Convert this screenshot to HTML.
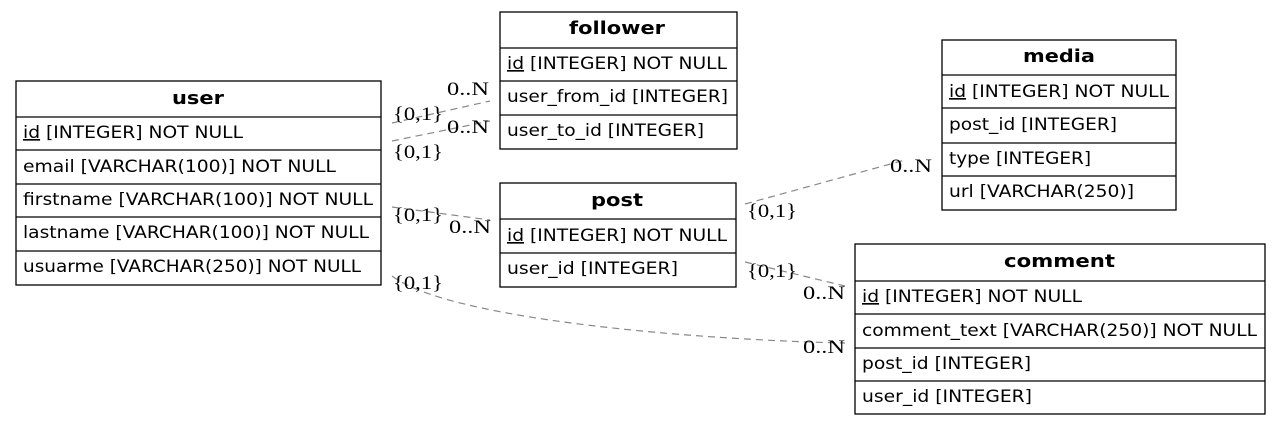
<!DOCTYPE html>
<html><head><meta charset="utf-8"><style>
body{margin:0;background:#fff}
svg{display:block}
.t{font-family:"DejaVu Sans","Liberation Sans",sans-serif;font-size:16.5px;fill:#000}
.h{font-family:"DejaVu Sans","Liberation Sans",sans-serif;font-size:18px;font-weight:bold;fill:#000}
.l{font-family:"Liberation Serif","DejaVu Serif",serif;font-size:19px;fill:#000}
.e{stroke:#888;stroke-dasharray:7,5;fill:none;stroke-width:1.2}
rect,line.b{stroke:#000;stroke-width:1.3;fill:none}
</style></head><body>
<svg width="1280" height="426" viewBox="0 0 1280 426">
<line class="e" x1="392" y1="123" x2="490" y2="101"/>
<line class="e" x1="392" y1="141" x2="490" y2="121"/>
<line class="e" x1="392" y1="207" x2="490" y2="220"/>
<path class="e" d="M392,276 C450,320 700,340 845,343"/>
<line class="e" x1="745" y1="204" x2="905" y2="160"/>
<line class="e" x1="745" y1="262" x2="845" y2="286"/>
<g class="l">
<text x="393" y="120" textLength="50" lengthAdjust="spacingAndGlyphs">{0,1}</text><text x="447" y="95" textLength="42" lengthAdjust="spacingAndGlyphs">0..N</text>
<text x="393" y="158" textLength="50" lengthAdjust="spacingAndGlyphs">{0,1}</text><text x="447" y="133" textLength="42" lengthAdjust="spacingAndGlyphs">0..N</text>
<text x="393" y="221" textLength="50" lengthAdjust="spacingAndGlyphs">{0,1}</text><text x="449" y="233" textLength="42" lengthAdjust="spacingAndGlyphs">0..N</text>
<text x="393" y="289" textLength="50" lengthAdjust="spacingAndGlyphs">{0,1}</text><text x="803" y="353" textLength="42" lengthAdjust="spacingAndGlyphs">0..N</text>
<text x="747" y="217" textLength="50" lengthAdjust="spacingAndGlyphs">{0,1}</text><text x="890" y="172" textLength="42" lengthAdjust="spacingAndGlyphs">0..N</text>
<text x="747" y="277" textLength="50" lengthAdjust="spacingAndGlyphs">{0,1}</text><text x="803" y="299" textLength="42" lengthAdjust="spacingAndGlyphs">0..N</text>
</g>
<!-- user -->
<rect x="16" y="81" width="365" height="204"/>
<line class="b" x1="16" y1="117" x2="381" y2="117"/>
<line class="b" x1="16" y1="150" x2="381" y2="150"/>
<line class="b" x1="16" y1="184" x2="381" y2="184"/>
<line class="b" x1="16" y1="217" x2="381" y2="217"/>
<line class="b" x1="16" y1="251" x2="381" y2="251"/>
<text class="h" x="172" y="104" textLength="52" lengthAdjust="spacingAndGlyphs">user</text>
<text class="t" x="23" y="138" textLength="220" lengthAdjust="spacingAndGlyphs"><tspan text-decoration="underline">id</tspan> [INTEGER] NOT NULL</text>
<text class="t" x="23" y="172" textLength="313" lengthAdjust="spacingAndGlyphs">email [VARCHAR(100)] NOT NULL</text>
<text class="t" x="23" y="205" textLength="350" lengthAdjust="spacingAndGlyphs">firstname [VARCHAR(100)] NOT NULL</text>
<text class="t" x="23" y="238" textLength="346" lengthAdjust="spacingAndGlyphs">lastname [VARCHAR(100)] NOT NULL</text>
<text class="t" x="23" y="272" textLength="338" lengthAdjust="spacingAndGlyphs">usuarme [VARCHAR(250)] NOT NULL</text>
<!-- follower -->
<rect x="500" y="12" width="237" height="137"/>
<line class="b" x1="500" y1="48" x2="737" y2="48"/>
<line class="b" x1="500" y1="81" x2="737" y2="81"/>
<line class="b" x1="500" y1="115" x2="737" y2="115"/>
<text class="h" x="569" y="34" textLength="96" lengthAdjust="spacingAndGlyphs">follower</text>
<text class="t" x="507" y="69" textLength="220" lengthAdjust="spacingAndGlyphs"><tspan text-decoration="underline">id</tspan> [INTEGER] NOT NULL</text>
<text class="t" x="507" y="102" textLength="221" lengthAdjust="spacingAndGlyphs">user_from_id [INTEGER]</text>
<text class="t" x="507" y="136" textLength="197" lengthAdjust="spacingAndGlyphs">user_to_id [INTEGER]</text>
<!-- post -->
<rect x="500" y="183" width="236" height="104"/>
<line class="b" x1="500" y1="219" x2="736" y2="219"/>
<line class="b" x1="500" y1="253" x2="736" y2="253"/>
<text class="h" x="591" y="206" textLength="52" lengthAdjust="spacingAndGlyphs">post</text>
<text class="t" x="507" y="241" textLength="220" lengthAdjust="spacingAndGlyphs"><tspan text-decoration="underline">id</tspan> [INTEGER] NOT NULL</text>
<text class="t" x="507" y="274" textLength="171" lengthAdjust="spacingAndGlyphs">user_id [INTEGER]</text>
<!-- media -->
<rect x="942" y="40" width="234" height="170"/>
<line class="b" x1="942" y1="75" x2="1176" y2="75"/>
<line class="b" x1="942" y1="108" x2="1176" y2="108"/>
<line class="b" x1="942" y1="143" x2="1176" y2="143"/>
<line class="b" x1="942" y1="176" x2="1176" y2="176"/>
<text class="h" x="1023" y="62" textLength="72" lengthAdjust="spacingAndGlyphs">media</text>
<text class="t" x="949" y="97" textLength="220" lengthAdjust="spacingAndGlyphs"><tspan text-decoration="underline">id</tspan> [INTEGER] NOT NULL</text>
<text class="t" x="949" y="130" textLength="168" lengthAdjust="spacingAndGlyphs">post_id [INTEGER]</text>
<text class="t" x="949" y="164" textLength="142" lengthAdjust="spacingAndGlyphs">type [INTEGER]</text>
<text class="t" x="949" y="197" textLength="185" lengthAdjust="spacingAndGlyphs">url [VARCHAR(250)]</text>
<!-- comment -->
<rect x="855" y="244" width="410" height="170"/>
<line class="b" x1="855" y1="281" x2="1265" y2="281"/>
<line class="b" x1="855" y1="314" x2="1265" y2="314"/>
<line class="b" x1="855" y1="348" x2="1265" y2="348"/>
<line class="b" x1="855" y1="381" x2="1265" y2="381"/>
<text class="h" x="1004" y="267" textLength="111" lengthAdjust="spacingAndGlyphs">comment</text>
<text class="t" x="862" y="302" textLength="220" lengthAdjust="spacingAndGlyphs"><tspan text-decoration="underline">id</tspan> [INTEGER] NOT NULL</text>
<text class="t" x="862" y="336" textLength="395" lengthAdjust="spacingAndGlyphs">comment_text [VARCHAR(250)] NOT NULL</text>
<text class="t" x="862" y="369" textLength="169" lengthAdjust="spacingAndGlyphs">post_id [INTEGER]</text>
<text class="t" x="862" y="402" textLength="170" lengthAdjust="spacingAndGlyphs">user_id [INTEGER]</text>
</svg>
</body></html>
